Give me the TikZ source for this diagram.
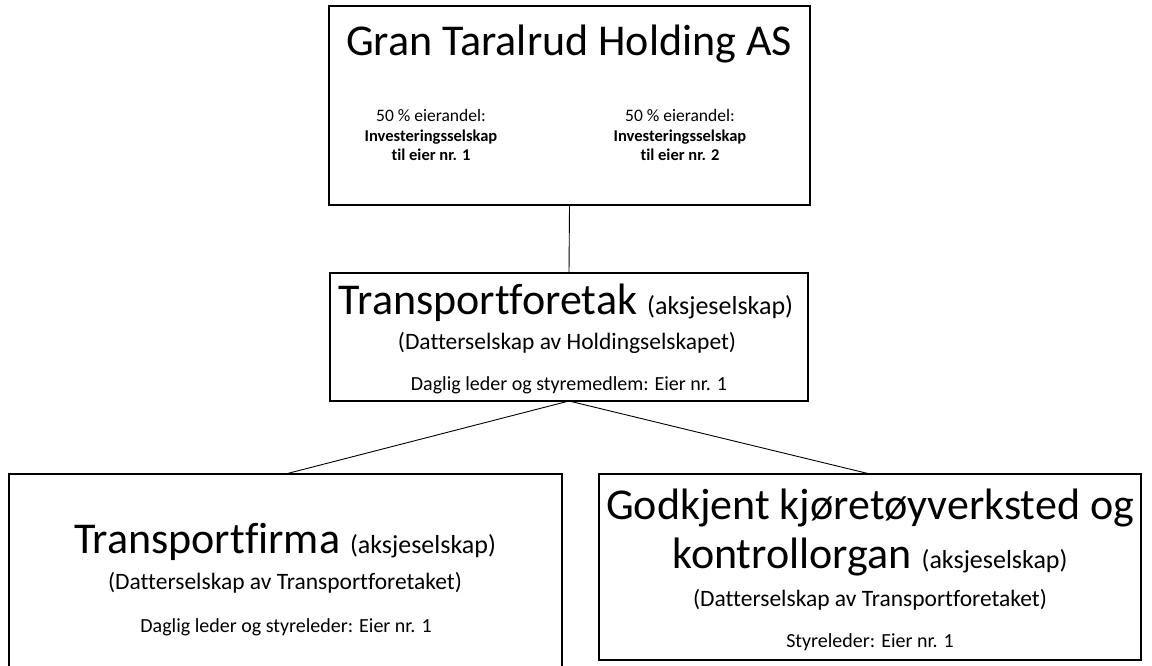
\documentclass[tikz,border=0pt]{standalone}
\usepackage{fontspec}
\setmainfont{Carlito}[Ligatures={NoCommon}]
\newcommand{\fs}[1]{\fontsize{#1}{#1}\selectfont}
\begin{document}
\begin{tikzpicture}[x=1pt,y=-1pt,
  box/.style={draw=black,line width=2pt,rectangle,inner sep=0pt,outer sep=0pt},
  conn/.style={draw=black,line width=0.9pt},
  txt/.style={inner sep=0pt,anchor=base,align=center}]
\useasboundingbox (0,0) rectangle (1152,666);
\node[box,minimum width=481pt,minimum height=199pt] (top) at (569.5,105.5) {};
\node[box,minimum width=478pt,minimum height=128pt] (mid) at (569,337) {};
\node[box,minimum width=553pt,minimum height=193pt] (left) at (285.5,570.5) {};
\node[box,minimum width=542pt,minimum height=186pt] (right) at (870,567) {};
\draw[conn] (top.south) -- (mid.north);
\draw[conn] (mid.south) -- (left.north);
\draw[conn] (mid.south) -- (right.north);
% top box text
\node[txt,font=\fs{44}] (t1) at (569,56) {Gran Taralrud Holding AS};
\node[txt,font=\fs{17.5}] (t2) at (431,122) {50 \% eierandel:};
\node[txt,font=\fs{16.5}\bfseries] (t3) at (431,142) {Investeringsselskap};
\node[txt,font=\fs{16.5}\bfseries] (t4) at (431,161) {til eier nr. 1};
\node[txt,font=\fs{17.5}] (t5) at (680,122) {50 \% eierandel:};
\node[txt,font=\fs{16.5}\bfseries] (t6) at (680,142) {Investeringsselskap};
\node[txt,font=\fs{16.5}\bfseries] (t7) at (680,161) {til eier nr. 2};
% middle
\node[txt,font=\fs{44}] (m1) at (566,314) {Transportforetak {\fs{26}(aksjeselskap)}};
\node[txt,font=\fs{23.5}] (m2) at (567,349) {(Datterselskap av Holdingselskapet)};
\node[txt,font=\fs{20}] (m3) at (569,390) {Daglig leder og styremedlem: Eier nr. 1};
% left
\node[txt,font=\fs{44}] (l1) at (285,553) {Transportfirma {\fs{26}(aksjeselskap)}};
\node[txt,font=\fs{23.5}] (l2) at (285,589) {(Datterselskap av Transportforetaket)};
\node[txt,font=\fs{20}] (l3) at (286,632) {Daglig leder og styreleder: Eier nr. 1};
% right
\node[txt,font=\fs{44}] (r1) at (870,519) {Godkjent kjøretøyverksted og};
\node[txt,font=\fs{44}] (r2) at (870,568) {kontrollorgan {\fs{26}(aksjeselskap)}};
\node[txt,font=\fs{23.5}] (r3) at (870,606) {(Datterselskap av Transportforetaket)};
\node[txt,font=\fs{20}] (r4) at (870,647) {Styreleder: Eier nr. 1};
\end{tikzpicture}
\end{document}
